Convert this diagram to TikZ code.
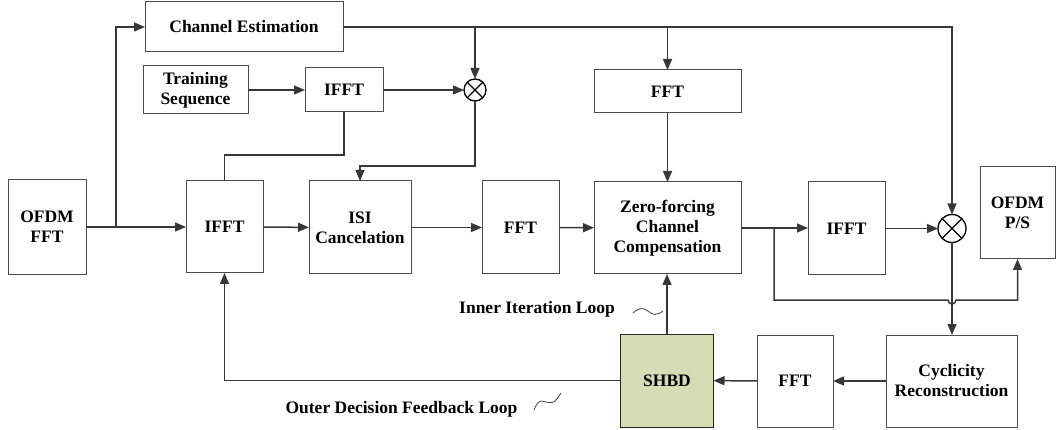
\documentclass[tikz,border=0pt]{standalone}
\usepackage{fontspec}
\setmainfont{Liberation Serif}
\usetikzlibrary{arrows.meta,calc}
\begin{document}
\begin{tikzpicture}[x=1pt,y=-1pt,
  box/.style={draw=black!70, line width=1pt, fill=white, inner sep=0pt, outer sep=0pt, align=center,
    font=\fontsize{17.5}{20}\selectfont\bfseries},
  lbl/.style={inner sep=0pt, font=\fontsize{17.5}{20}\selectfont\bfseries},
  conn/.style={draw=black!78, line width=1.5pt},
  arr/.style={conn, -{Triangle[length=11pt,width=9pt]}},
  mult/.style={circle, draw=black, line width=1.3pt, minimum size=#1, inner sep=0pt, outer sep=0pt, fill=white},
  squig/.style={draw=black!75, line width=0.8pt}]
\useasboundingbox (0,0) rectangle (1057,430);

% boxes
\node[box, minimum width=198, minimum height=50] (ce) at (244,27) {Channel Estimation};
\node[box, minimum width=105, minimum height=48] (ts) at (195.5,90) {Training\\Sequence};
\node[box, minimum width=78, minimum height=44] (ifft1) at (344,90) {IFFT};
\node[box, minimum width=147, minimum height=43] (fft1) at (667.5,91.5) {FFT};
\node[box, minimum width=78, minimum height=95] (ofdmfft) at (47,227) {OFDM\\FFT};
\node[box, minimum width=77, minimum height=92] (ifft2) at (224.5,227) {IFFT};
\node[box, minimum width=102, minimum height=93] (isi) at (360,227.5) {ISI\\Cancelation};
\node[box, minimum width=77, minimum height=93] (fft2) at (520.5,227.5) {FFT};
\node[box, minimum width=147, minimum height=92] (zf) at (667.5,228) {Zero-forcing\\Channel\\Compensation};
\node[box, minimum width=77, minimum height=93] (ifft3) at (846.5,228.5) {IFFT};
\node[box, minimum width=75, minimum height=92] (ofdmps) at (1017.5,213) {OFDM\\P/S};
\node[box, minimum width=131, minimum height=92] (cyc) at (951.5,381) {Cyclicity\\Reconstruction};
\node[box, minimum width=76, minimum height=92] (fft3) at (795,381) {FFT};
\node[box, draw=black!85, fill={rgb,255:red,214;green,220;blue,180}, minimum width=93, minimum height=93] (shbd) at (667,380.5) {SHBD};

% multipliers
\node[mult=22] (m1) at (475,90) {};
\draw[line width=1.3pt] (m1.north east) -- (m1.south west) (m1.north west) -- (m1.south east);
\node[mult=28] (m2) at (952,228.5) {};
\draw[line width=1.3pt] (m2.north east) -- (m2.south west) (m2.north west) -- (m2.south east);

% coordinates
\coordinate (br1) at (116,227);
\coordinate (k1) at (0,155);
\coordinate (k2) at (0,166);
\coordinate (br2) at (774,228);
\coordinate (lo) at (774,300);
\coordinate (hop) at (952,300);

% connectors
\draw[arr] (ofdmfft.east) -- (ifft2.west);
\draw[arr] (br1) |- (ce.west);
\draw[arr] (ce.east) -| (m2.north);
\draw[arr] (ce.east -| m1) -- (m1.north);
\draw[arr] (ce.east -| fft1) -- (fft1.north);
\draw[arr] (ts) -- (ifft1);
\draw[arr] (ifft1) -- (m1);
\draw[conn] (ifft1.south) -- (ifft1.south |- k1) -| (ifft2.north);
\draw[arr] (m1.south) -- (m1.south |- k2) -| (isi.north);
\draw[arr] (ifft2) -- (isi);
\draw[arr] (isi) -- (fft2);
\draw[arr] (fft2) -- (zf);
\draw[arr] (fft1) -- (zf);
\draw[arr] (zf.east) -- (zf.east -| ifft3.west);
\draw[arr] (ifft3.east) -- (m2.west);
\draw[arr] (br2) -- (lo) -- ($(hop)+(-4,0)$) arc[start angle=180, end angle=0, radius=4] -| (ofdmps.south);
\draw[arr] (m2.south) -- (m2.south |- cyc.north);
\draw[arr] (cyc) -- (fft3);
\draw[arr] (fft3) -- (shbd);
\draw[arr] (shbd.west) -| (ifft2.south);
\draw[arr] (shbd.north) -- (shbd.north |- zf.south);

% labels
\node[lbl] (inner) at (537,309) {Inner Iteration Loop};
\node[lbl] (outer) at (401.5,409) {Outer Decision Feedback Loop};
\draw[squig] (633,313) .. controls (638,308) and (643,307) .. (648,311) .. controls (652,315) and (656,316) .. (663,311);
\draw[squig] (534,410) .. controls (536,405) and (538,401) .. (542,401) .. controls (546,402) and (552,404) .. (555,401) .. controls (557,399) and (559,396) .. (561,393);
\end{tikzpicture}
\end{document}
